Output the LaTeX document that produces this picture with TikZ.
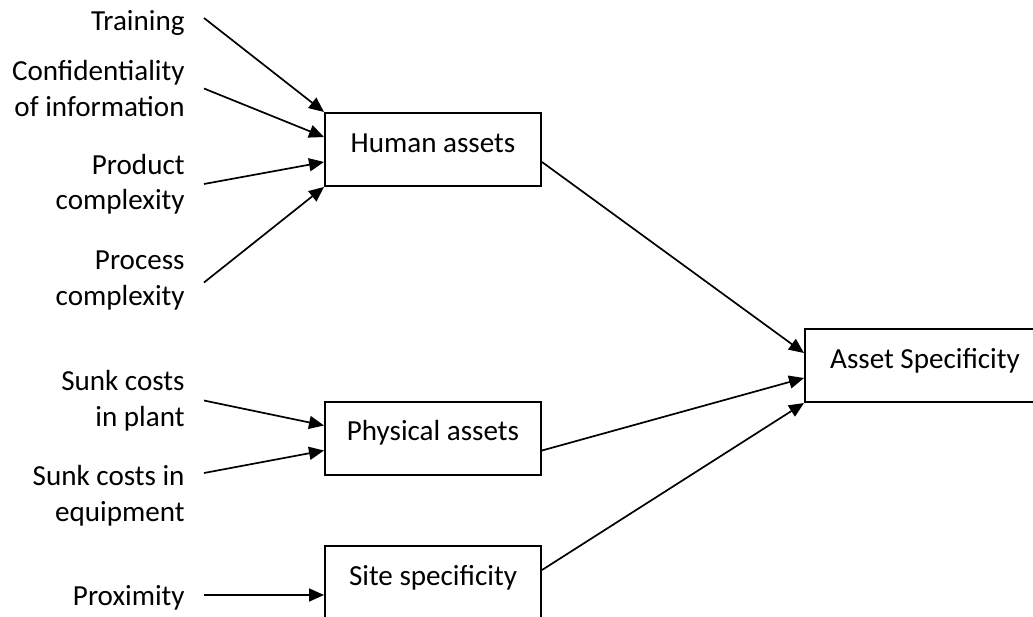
\documentclass[tikz,border=0pt]{standalone}
\usepackage{fontspec}
\setmainfont{Carlito}
\usetikzlibrary{arrows.meta, calc}

\begin{document}
\begin{tikzpicture}[
    x=0.5pt, y=-0.5pt,
    font=\fontsize{14.55pt}{17.75pt}\selectfont,
    asset box/.style={draw, line width=1pt, inner sep=0pt, minimum height=36.5pt,
        minimum width=108pt, text height=9.4pt, text depth=6.5pt},
    factor label/.style={anchor=east, align=right, inner sep=0pt},
    link/.style={line width=0.85pt, -{Triangle[length=7.5pt, width=6.5pt]}}
]
    \useasboundingbox (0,0) rectangle (1033,616);

    % Nodes
    \node[asset box] (human) at (433, 149.5) {Human assets};
    \node[asset box] (physical) at (433, 438) {Physical assets};
    \node[asset box] (site) at (433, 582.5) {Site specificity};
    \node[asset box, minimum width=120pt] (spec) at (925, 365.5) {Asset Specificity};

    \node[factor label] (training) at (185, 23) {Training};
    \node[factor label] (confid) at (185, 88.5) {Confidentiality\\of information};
    \node[factor label] (product) at (185, 184) {Product\\complexity};
    \node[factor label] (process) at (185, 280.5) {Process\\complexity};
    \node[factor label] (plant) at (185, 400.5) {Sunk costs\\in plant};
    \node[factor label] (equip) at (185, 495.5) {Sunk costs in\\equipment};
    \node[factor label] (proxim) at (185, 598) {Proximity};

    % Edges
    \draw[link] ([xshift=9.5pt, yshift=2.5pt]training.east) -- (human.north west);
    \draw[link] ([xshift=9.5pt]confid.east) -- ($(human.north west)!1/3!(human.south west)$);
    \draw[link] ([xshift=9.5pt]product.east) -- ($(human.north west)!2/3!(human.south west)$);
    \draw[link] ([xshift=9.5pt, yshift=-1pt]process.east) -- (human.south west);
    \draw[link] ([xshift=9.5pt]plant.east) -- ($(physical.north west)!1/3!(physical.south west)$);
    \draw[link] ([xshift=9.5pt, yshift=11.25pt]equip.east) -- ($(physical.north west)!2/3!(physical.south west)$);
    \draw[link] ([xshift=9.5pt, yshift=1.5pt]proxim.east) -- ($(site.north west)!2/3!(site.south west)$);

    \draw[link] ($(human.north east)!2/3!(human.south east)$) -- ($(spec.north west)!1/3!(spec.south west)$);
    \draw[link] ($(physical.north east)!2/3!(physical.south east)$) -- ($(spec.north west)!2/3!(spec.south west)$);
    \draw[link] ($(site.north east)!1/3!(site.south east)$) -- (spec.south west);
\end{tikzpicture}
\end{document}
